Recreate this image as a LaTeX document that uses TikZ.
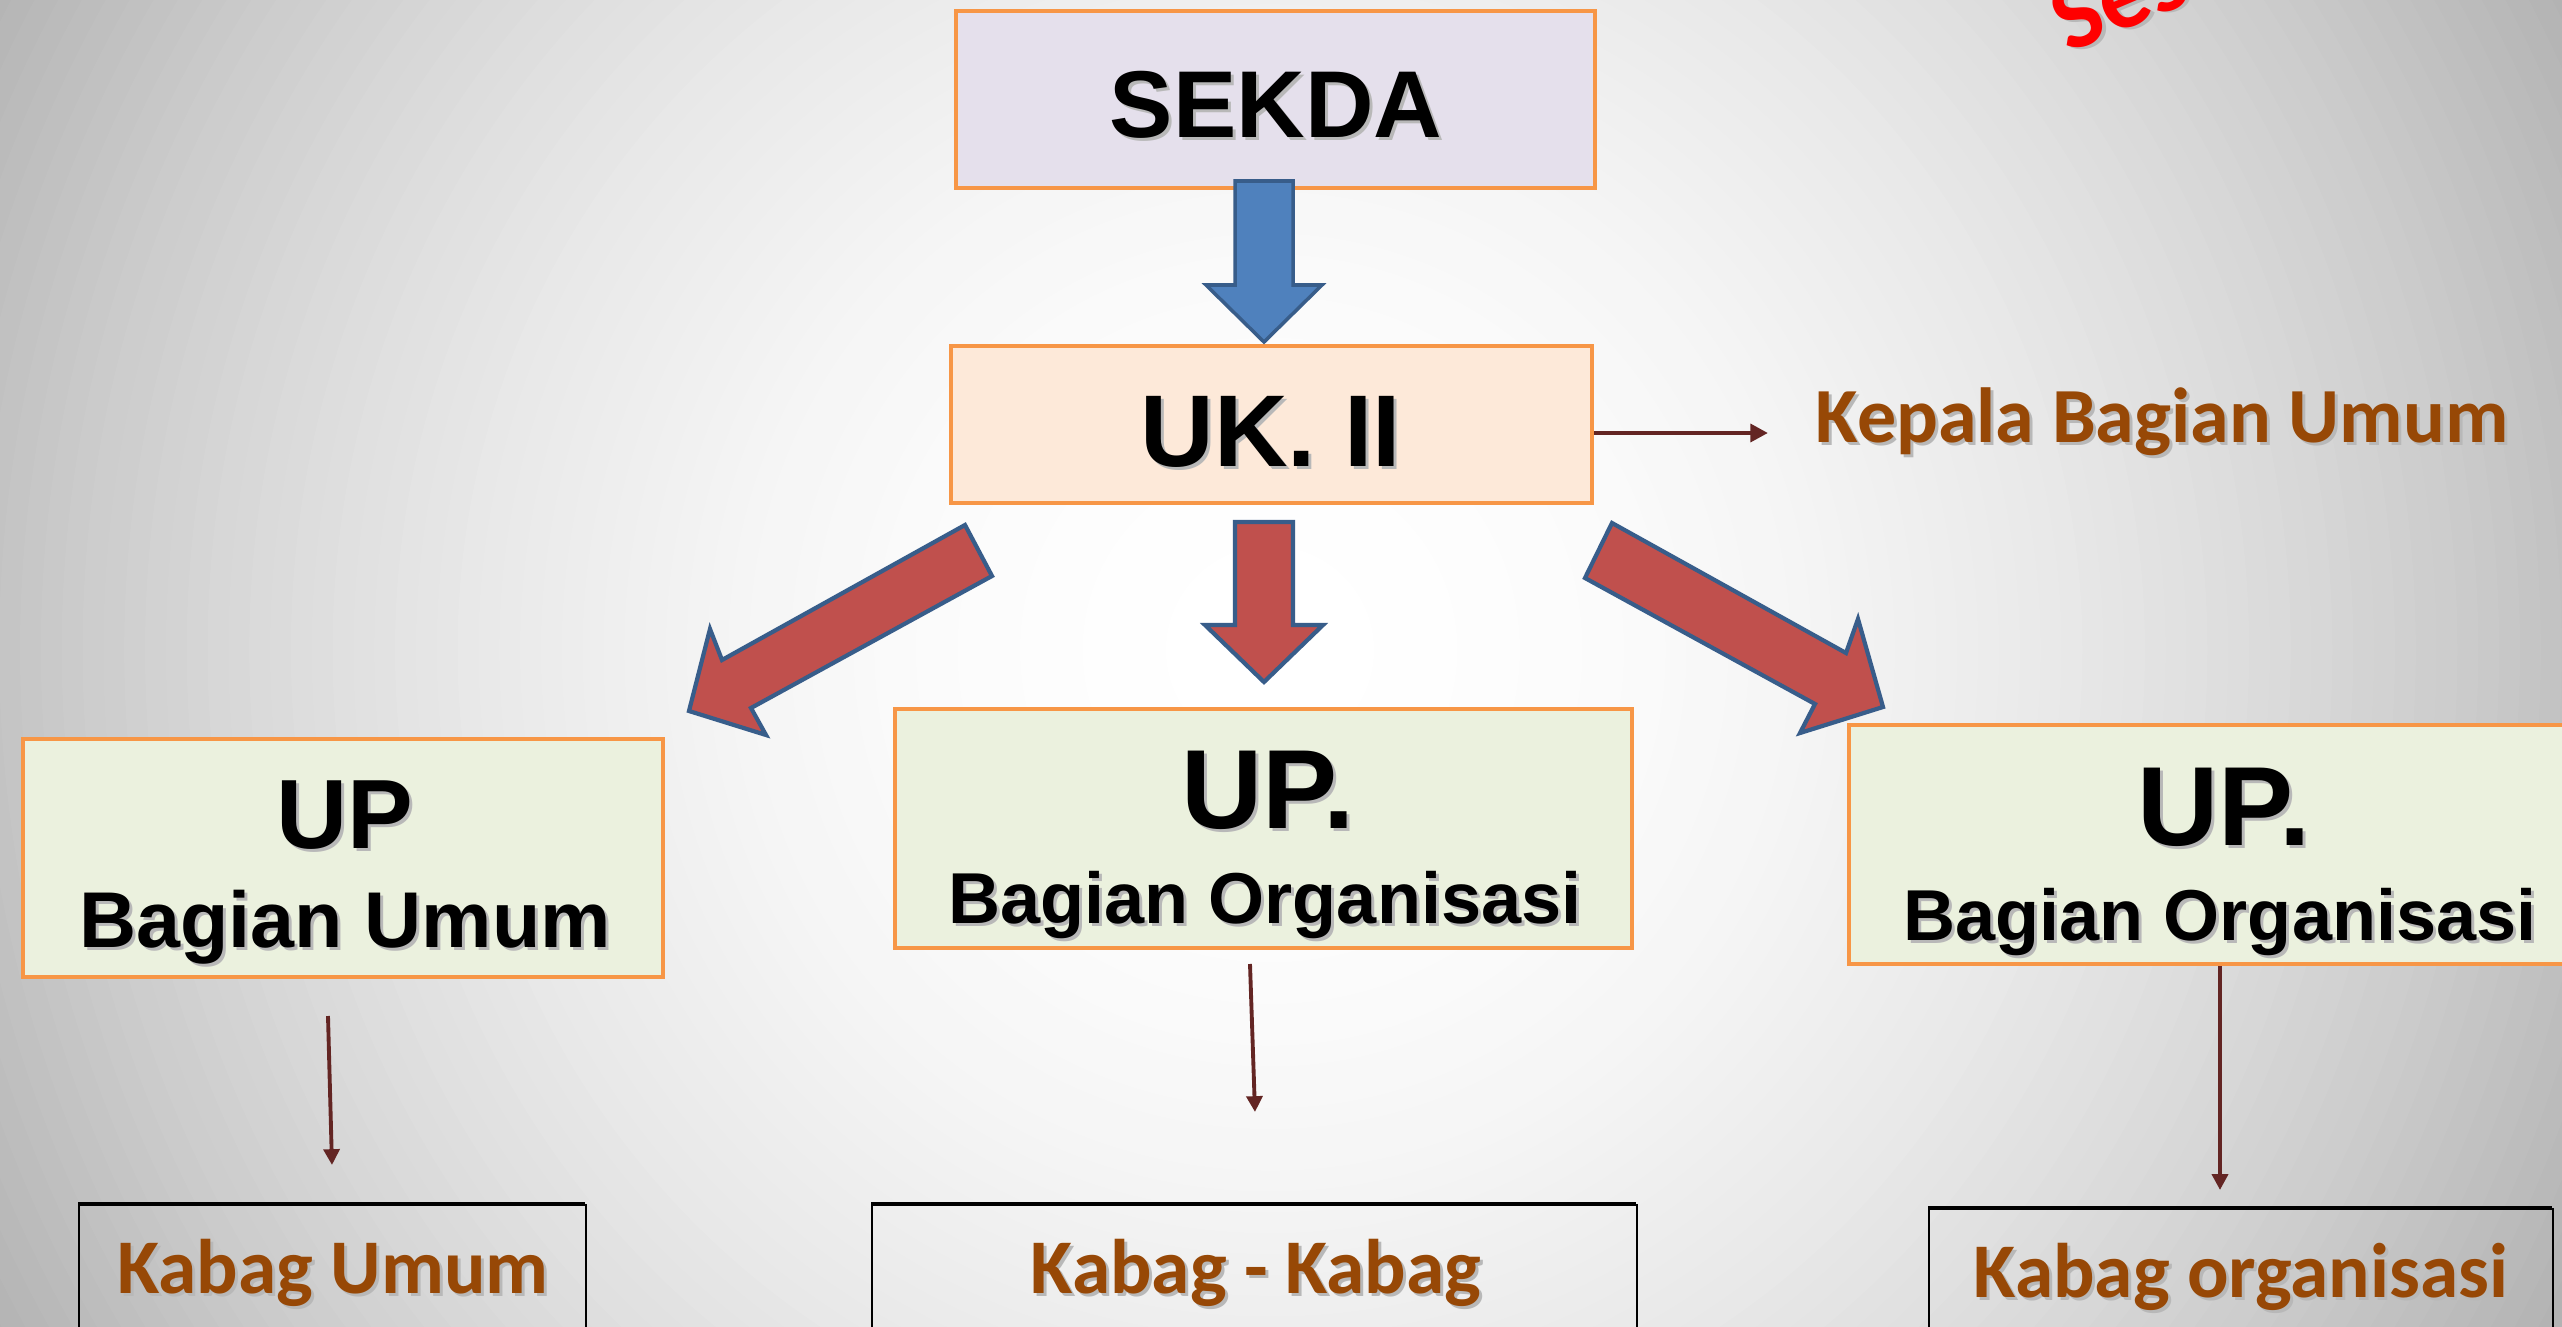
\documentclass[tikz,border=0pt]{standalone}
\usepackage{fontspec}
\setmainfont{Liberation Sans}
\newfontfamily\calfont{Carlito}
\usetikzlibrary{arrows.meta}
\definecolor{orangeb}{HTML}{F79646}
\definecolor{lav}{HTML}{E5E0EC}
\definecolor{peach}{HTML}{FDE9D9}
\definecolor{lgreen}{HTML}{EBF1DE}
\definecolor{blueA}{HTML}{4F81BD}
\definecolor{blueB}{HTML}{385D8A}
\definecolor{redA}{HTML}{C0504D}
\definecolor{brownT}{HTML}{974806}
\definecolor{darkred}{HTML}{632523}
\newcommand\stext[4]{%
  \node[#1,text=black!28,xshift=0.03cm,yshift=-0.03cm] at (#2) {#4};
  \node[#1] (#3) at (#2) {#4};}
\begin{document}
\begin{tikzpicture}[x=0.01cm,y=-0.01cm,
  box/.style={draw=orangeb,line width=1.2pt,inner sep=0pt,rectangle},
  kbox/.style={draw=black,line width=0.45pt,inner sep=0pt,rectangle,anchor=north west},
  blk/.style={fill=blueA,draw=blueB,line width=1pt,line join=miter},
  rblk/.style={fill=redA,draw=blueB,line width=1.2pt,line join=miter},
  thin/.style={draw=darkred,line width=1.1pt,-{Triangle[length=4.5pt,width=4.5pt]}},
  bt/.style={font=\bfseries,inner sep=0pt,anchor=base},
  ct/.style={font=\calfont\bfseries,inner sep=0pt,anchor=base,text=brownT}]
\useasboundingbox (0,0) rectangle (2562,1327);
\clip (0,0) rectangle (2562,1327);
% background: radial grey gradient
\foreach \i in {72,...,1}{
  \pgfmathsetmacro\rr{\i*20.8333}
  \pgfmathsetmacro\qq{(\rr-10)/1270}
  \pgfmathsetmacro\dd{min(30,23*\qq*\qq)}
  \fill[black!\dd!white] (1270,650) circle[radius=\rr];
}

% boxes
\node[box,fill=lav,minimum width=6.39cm,minimum height=1.77cm] (sekda) at (1275.5,99.5) {};
\node[box,fill=peach,minimum width=6.41cm,minimum height=1.57cm] (uk) at (1271.5,424.5) {};
\node[box,fill=lgreen,minimum width=6.40cm,minimum height=2.38cm] (upu) at (343,858) {};
\node[box,fill=lgreen,minimum width=7.37cm,minimum height=2.39cm] (upo) at (1263.5,828.5) {};
\node[box,fill=lgreen,minimum width=7.42cm,minimum height=2.39cm] (upr) at (2220,844.5) {};

% block arrows
\draw[blk] (1235,181) -- (1293,181) -- (1293,285) -- (1322,285) -- (1264,342) -- (1206,285) -- (1235,285) -- cycle;
\draw[rblk] (1235,522) -- (1293,522) -- (1293,625) -- (1323,625) -- (1264,682) -- (1205,625) -- (1235,625) -- cycle;
\draw[rblk] (965,525) -- (722,660) -- (710,629) -- (689,711) -- (766,735) -- (751,708) -- (992,576) -- cycle;
\draw[rblk] (1612,523) -- (1846,653) -- (1858,619) -- (1883,707) -- (1800,733) -- (1815,704) -- (1585,578) -- cycle;

% Kabag boxes
\draw[line width=1.3pt] (78,1204) -- (585,1204);
\node[kbox,minimum width=5.07cm,minimum height=1.40cm] (kb1) at (78,1204) {};
\draw[line width=1.3pt] (871,1204) -- (1636,1204);
\node[kbox,minimum width=7.65cm,minimum height=1.40cm] (kb2) at (871,1204) {};
\draw[line width=1.3pt] (1928,1208) -- (2552,1208);
\node[kbox,minimum width=6.24cm,minimum height=1.40cm] (kb3) at (1928,1208) {};

% texts
\stext{bt,font=\bfseries\fontsize{27}{30}\selectfont}{1276,137}{tsekda}{SEKDA}
\stext{bt,font=\bfseries\fontsize{29}{32}\selectfont}{1271,466}{tuk}{UK. II}
\stext{bt,font=\bfseries\fontsize{28}{30}\selectfont}{345,848}{tup1}{UP}
\stext{bt,font=\bfseries\fontsize{22.5}{26}\selectfont}{345,947}{tbu}{Bagian Umum}
\stext{bt,font=\bfseries\fontsize{32}{34}\selectfont}{1268,828}{tup2}{UP.}
\stext{bt,font=\bfseries\fontsize{20.5}{24}\selectfont}{1265,923}{tbo2}{Bagian Organisasi}
\stext{bt,font=\bfseries\fontsize{32}{34}\selectfont}{2224,845}{tup3}{UP.}
\stext{bt,font=\bfseries\fontsize{20.5}{24}\selectfont}{2220,940}{tbo3}{Bagian Organisasi}
\stext{ct,font=\calfont\bfseries\fontsize{22.2}{26}\selectfont,anchor=base west}{1815,442}{tkepala}{Kepala Bagian Umum}
\stext{ct,font=\calfont\bfseries\fontsize{22}{26}\selectfont}{333,1293}{tk1}{Kabag Umum}
\stext{ct,font=\calfont\bfseries\fontsize{22}{26}\selectfont}{1256,1293}{tk2}{Kabag - Kabag}
\stext{ct,font=\calfont\bfseries\fontsize{22}{26}\selectfont}{2241,1297}{tk3}{Kabag organisasi}
\stext{ct,text=red,font=\calfont\bfseries\fontsize{28}{30}\selectfont,anchor=base west,rotate=23}{2068,54}{tses}{Ses}

% thin connectors
\coordinate (a1) at (328,1016);
\coordinate (a2) at (1250,964);
\coordinate (kend) at (1768,433);
\draw[draw=darkred,line width=1.3pt,-{Triangle[length=5pt,width=5pt]}] (uk.east |- kend) -- (kend);
\draw[thin] (a1) -- (332,1165) coordinate (a1e);
\draw[thin] (a2) -- (1255,1112) coordinate (a2e);
\draw[thin] (upr.south) -- (2220,1190) coordinate (a3e);
\end{tikzpicture}
\end{document}
